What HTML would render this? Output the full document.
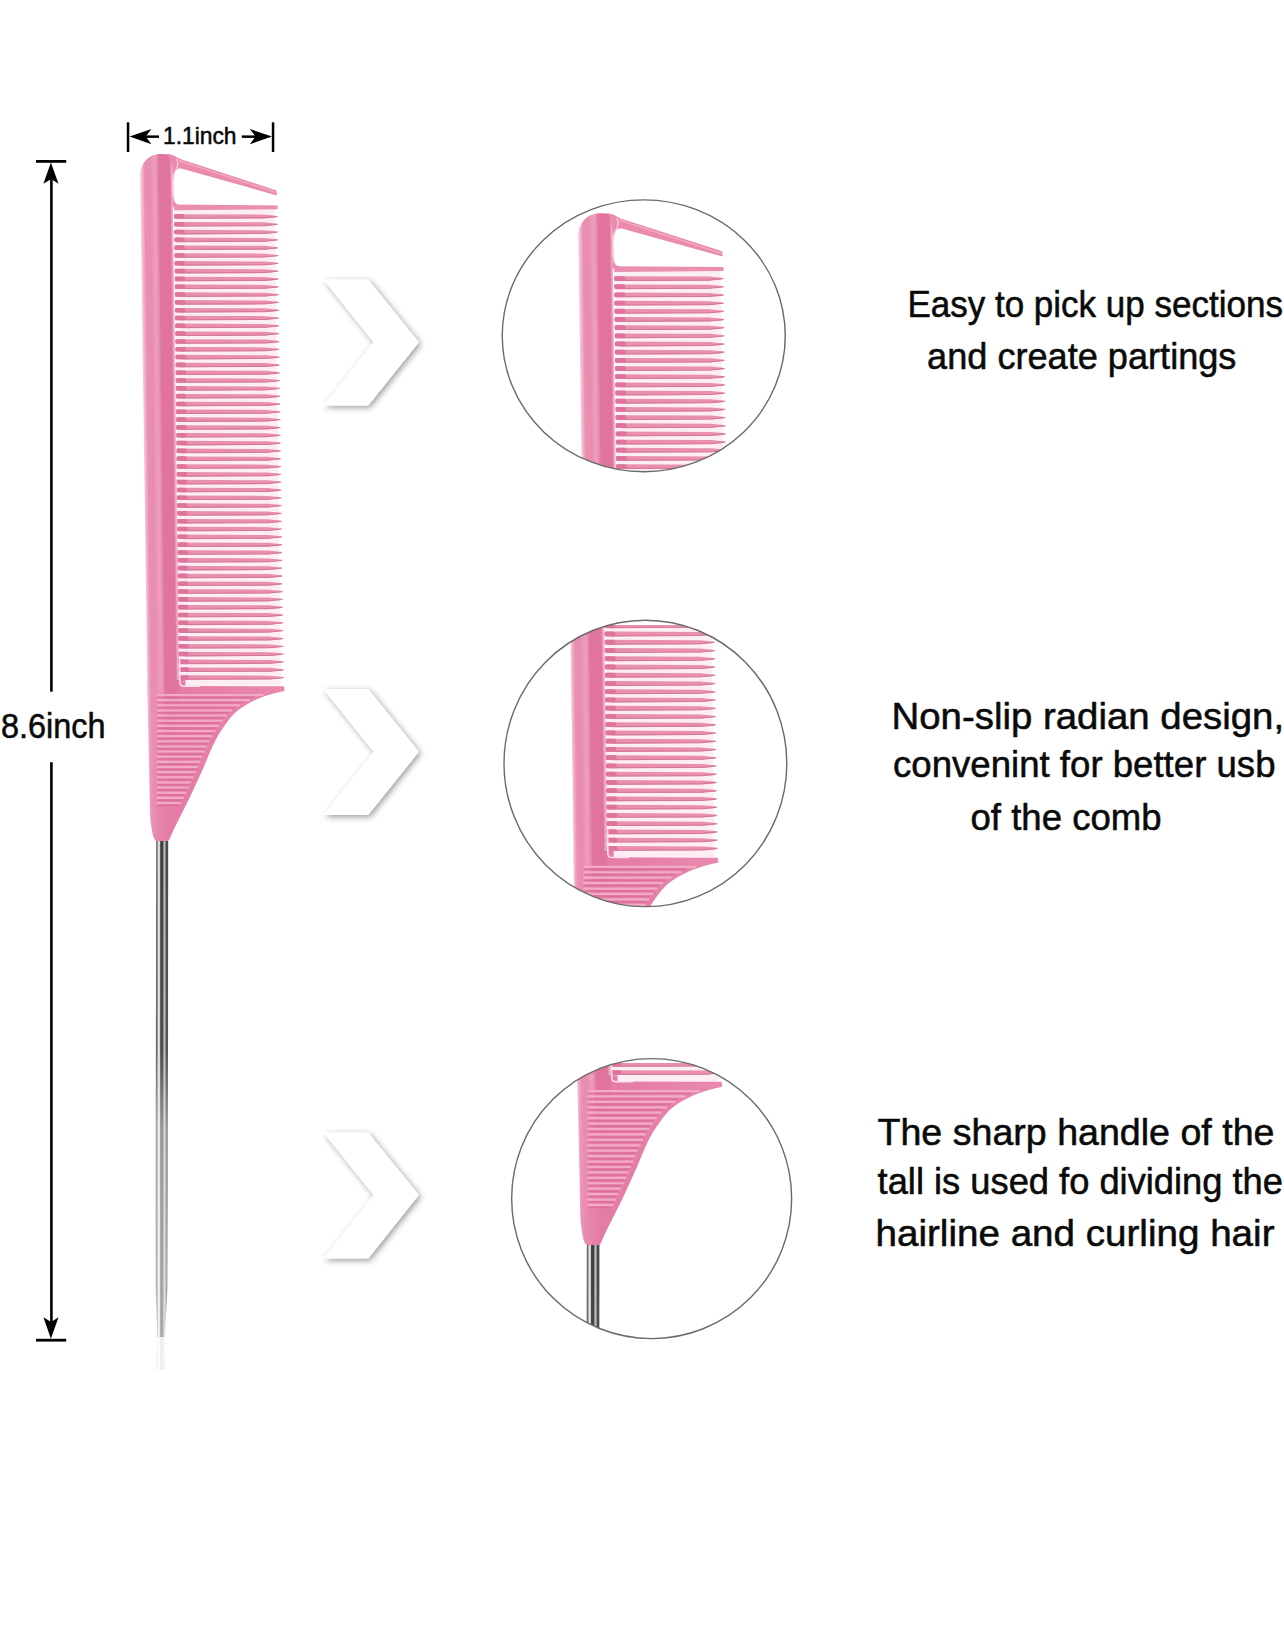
<!DOCTYPE html>
<html lang="en"><head><meta charset="utf-8"><title>Rat tail comb - product details</title>
<style>html,body{margin:0;padding:0;background:#fff}body{width:1284px;height:1645px;overflow:hidden}svg{display:block}</style>
</head><body>
<svg width="1284" height="1645" viewBox="0 0 1284 1645">
<defs>
<linearGradient id="gSp" gradientUnits="userSpaceOnUse" x1="140.2" y1="0" x2="175" y2="0" gradientTransform="matrix(1 0 0.012 1 -1.98 0)">
<stop offset="0" stop-color="#f6cfdd"/><stop offset="0.08" stop-color="#efa9c3"/><stop offset="0.125" stop-color="#e98fb1"/><stop offset="0.28" stop-color="#e98db0"/>
<stop offset="0.37" stop-color="#ec9ab9"/><stop offset="0.43" stop-color="#ed9dbb"/><stop offset="0.49" stop-color="#e88cb0"/><stop offset="0.54" stop-color="#e0749f"/>
<stop offset="0.85" stop-color="#e0749f"/><stop offset="0.9" stop-color="#f0a9c4"/><stop offset="1" stop-color="#fbd5e3"/>
</linearGradient>
<linearGradient id="gSp2" gradientUnits="userSpaceOnUse" x1="140.2" y1="0" x2="175" y2="0" gradientTransform="matrix(1 0 0.012 1 -1.98 0)">
<stop offset="0" stop-color="#f6cfdd"/><stop offset="0.08" stop-color="#efa9c3"/><stop offset="0.125" stop-color="#e98fb1"/><stop offset="0.28" stop-color="#e98db0"/>
<stop offset="0.37" stop-color="#ec9ab9"/><stop offset="0.43" stop-color="#ed9dbb"/><stop offset="0.49" stop-color="#e88cb0"/><stop offset="0.54" stop-color="#e0749f"/>
<stop offset="0.9" stop-color="#e0749f"/><stop offset="1.12" stop-color="#e57ea7"/>
</linearGradient>
<linearGradient id="gSeam" gradientUnits="userSpaceOnUse" x1="0" y1="684" x2="0" y2="738"><stop offset="0" stop-color="#fff"/><stop offset="1" stop-color="#000"/></linearGradient>
<mask id="mSeam" maskUnits="userSpaceOnUse" x="130" y="670" width="70" height="80"><rect x="130" y="670" width="70" height="80" fill="url(#gSeam)"/></mask>
<linearGradient id="gTail" gradientUnits="userSpaceOnUse" x1="147" y1="0" x2="290" y2="0">
<stop offset="0" stop-color="#f3bdd1"/><stop offset="0.03" stop-color="#eb93b5"/><stop offset="0.07" stop-color="#e888ae"/><stop offset="0.16" stop-color="#e47ca6"/><stop offset="0.5" stop-color="#e680a8"/><stop offset="1" stop-color="#ea8aae"/>
</linearGradient>
<linearGradient id="gPin" gradientUnits="userSpaceOnUse" x1="156" y1="0" x2="168.4" y2="0">
<stop offset="0" stop-color="#555"/><stop offset="0.1" stop-color="#777"/><stop offset="0.2" stop-color="#e2e2e2"/><stop offset="0.3" stop-color="#d0d0d0"/>
<stop offset="0.38" stop-color="#3c3c3c"/><stop offset="0.56" stop-color="#444"/><stop offset="0.64" stop-color="#c4c4c4"/><stop offset="0.74" stop-color="#aaa"/>
<stop offset="0.82" stop-color="#444"/><stop offset="1" stop-color="#555"/>
</linearGradient>
<linearGradient id="gFade" gradientUnits="userSpaceOnUse" x1="0" y1="841" x2="0" y2="1337">
<stop offset="0" stop-color="#fff"/><stop offset="0.42" stop-color="#f0f0f0"/><stop offset="0.58" stop-color="#8c8c8c"/><stop offset="1" stop-color="#747474"/>
</linearGradient>
<mask id="mPin"><rect x="150" y="830" width="30" height="520" fill="url(#gFade)"/></mask>
<filter id="sh" x="-20%" y="-20%" width="150%" height="150%">
<feGaussianBlur in="SourceAlpha" stdDeviation="3.1"/><feOffset dx="1.6" dy="1.9" result="b"/>
<feComponentTransfer><feFuncA type="linear" slope="0.4"/></feComponentTransfer>
<feMerge><feMergeNode/><feMergeNode in="SourceGraphic"/></feMerge>
</filter>
<g id="comb">
<path d="M 174.6 205 L 274.67 205 L 281 686 L 179.46 686 Z" fill="#fdeef3"/>
<path d="M 147.43 690 L 140.09 176 C 140.4 163 148.5 154 161 154 L 168 154.2 C 172.5 154.5 175.5 156.3 177.2 159 C 179 162 178 166.5 176 169.5 C 173.5 173 172.55 177 172.65 182 L 179.5 690 Z" fill="url(#gSp)"/>
<path d="M 168 154.2 C 172.5 154.5 176 156.4 179.5 158.8 L 276.5 190.4 L 276.9 195.4 L 183 169 C 178 167.6 174.5 170 173 176 L 172 165 Z" fill="#ea8bae"/>
<path d="M 179 160.6 L 276.5 192.6" stroke="#f3abc5" stroke-width="1.2" fill="none"/>
<path d="M 176.5 158.8 C 178.5 162 178 166 176 169.5 C 173.8 173 172.9 177 172.9 182 L 173.3 198 C 173.6 203.5 177 205.6 182 206" stroke="#f9c6d7" stroke-width="1.4" fill="none"/>
<path d="M 172.5 196 L 173.3 198 C 173.6 203.5 177 205.6 183 206 L 172.5 207 Z" fill="#e98db0"/>
<path d="M 174.1 204.6 L 277.7 205.4 L 277.7 209.2 L 174.15 210.2 Z" fill="#ea8fb0"/>
<path d="M 174.22 214.15 L 263.82 214.55 L 277.82 215.9 L 277.82 216.9 L 263.82 218.25 L 174.22 218.65 Z M 174.3 221.97 L 263.93 222.37 L 277.93 223.72 L 277.93 224.72 L 263.93 226.06 L 174.3 226.47 Z M 174.38 229.78 L 264.03 230.18 L 278.03 231.53 L 278.03 232.53 L 264.03 233.88 L 174.38 234.28 Z M 174.46 237.59 L 264.13 238 L 278.13 239.34 L 278.13 240.34 L 264.13 241.69 L 174.46 242.09 Z M 174.53 245.41 L 264.23 245.81 L 278.23 247.16 L 278.23 248.16 L 264.23 249.51 L 174.53 249.91 Z M 174.61 253.23 L 264.34 253.63 L 278.34 254.98 L 278.34 255.98 L 264.34 257.33 L 174.61 257.73 Z M 174.69 261.04 L 264.44 261.44 L 278.44 262.79 L 278.44 263.79 L 264.44 265.14 L 174.69 265.54 Z M 174.77 268.86 L 264.54 269.25 L 278.54 270.61 L 278.54 271.61 L 264.54 272.96 L 174.77 273.36 Z M 174.85 276.67 L 264.65 277.07 L 278.65 278.42 L 278.65 279.42 L 264.65 280.77 L 174.85 281.17 Z M 174.93 284.49 L 264.75 284.88 L 278.75 286.24 L 278.75 287.24 L 264.75 288.59 L 174.93 288.99 Z M 175.01 292.3 L 264.85 292.7 L 278.85 294.05 L 278.85 295.05 L 264.85 296.4 L 175.01 296.8 Z M 175.09 300.12 L 264.95 300.51 L 278.95 301.87 L 278.95 302.87 L 264.95 304.22 L 175.09 304.62 Z M 175.17 307.93 L 265.06 308.33 L 279.06 309.68 L 279.06 310.68 L 265.06 312.03 L 175.17 312.43 Z M 175.25 315.75 L 265.16 316.14 L 279.16 317.5 L 279.16 318.5 L 265.16 319.85 L 175.25 320.25 Z M 175.32 323.56 L 265.26 323.96 L 279.26 325.31 L 279.26 326.31 L 265.26 327.66 L 175.32 328.06 Z M 175.4 331.38 L 265.37 331.77 L 279.37 333.12 L 279.37 334.12 L 265.37 335.48 L 175.4 335.88 Z M 175.48 339.19 L 265.47 339.59 L 279.47 340.94 L 279.47 341.94 L 265.47 343.29 L 175.48 343.69 Z M 175.56 347 L 265.57 347.4 L 279.57 348.75 L 279.57 349.75 L 265.57 351.11 L 175.56 351.5 Z M 175.64 354.82 L 265.67 355.22 L 279.67 356.57 L 279.67 357.57 L 265.67 358.92 L 175.64 359.32 Z M 175.72 362.63 L 265.78 363.03 L 279.78 364.38 L 279.78 365.38 L 265.78 366.74 L 175.72 367.13 Z M 175.8 370.45 L 265.88 370.85 L 279.88 372.2 L 279.88 373.2 L 265.88 374.55 L 175.8 374.95 Z M 175.88 378.26 L 265.98 378.66 L 279.98 380.01 L 279.98 381.01 L 265.98 382.37 L 175.88 382.76 Z M 175.96 386.08 L 266.08 386.48 L 280.08 387.83 L 280.08 388.83 L 266.08 390.18 L 175.96 390.58 Z M 176.03 393.89 L 266.19 394.29 L 280.19 395.64 L 280.19 396.64 L 266.19 398 L 176.03 398.39 Z M 176.11 401.71 L 266.29 402.11 L 280.29 403.46 L 280.29 404.46 L 266.29 405.81 L 176.11 406.21 Z M 176.19 409.52 L 266.39 409.92 L 280.39 411.27 L 280.39 412.27 L 266.39 413.62 L 176.19 414.02 Z M 176.27 417.34 L 266.5 417.74 L 280.5 419.09 L 280.5 420.09 L 266.5 421.44 L 176.27 421.84 Z M 176.35 425.16 L 266.6 425.56 L 280.6 426.91 L 280.6 427.91 L 266.6 429.26 L 176.35 429.66 Z M 176.43 432.97 L 266.7 433.37 L 280.7 434.72 L 280.7 435.72 L 266.7 437.07 L 176.43 437.47 Z M 176.51 440.79 L 266.8 441.19 L 280.8 442.54 L 280.8 443.54 L 266.8 444.89 L 176.51 445.29 Z M 176.59 448.6 L 266.91 449 L 280.91 450.35 L 280.91 451.35 L 266.91 452.7 L 176.59 453.1 Z M 176.67 456.42 L 267.01 456.81 L 281.01 458.17 L 281.01 459.17 L 267.01 460.52 L 176.67 460.92 Z M 176.74 464.23 L 267.11 464.63 L 281.11 465.98 L 281.11 466.98 L 267.11 468.33 L 176.74 468.73 Z M 176.82 472.05 L 267.21 472.45 L 281.21 473.8 L 281.21 474.8 L 267.21 476.15 L 176.82 476.55 Z M 176.9 479.86 L 267.32 480.26 L 281.32 481.61 L 281.32 482.61 L 267.32 483.96 L 176.9 484.36 Z M 176.98 487.68 L 267.42 488.08 L 281.42 489.43 L 281.42 490.43 L 267.42 491.78 L 176.98 492.18 Z M 177.06 495.49 L 267.52 495.89 L 281.52 497.24 L 281.52 498.24 L 267.52 499.59 L 177.06 499.99 Z M 177.14 503.31 L 267.63 503.71 L 281.63 505.06 L 281.63 506.06 L 267.63 507.41 L 177.14 507.81 Z M 177.22 511.12 L 267.73 511.52 L 281.73 512.87 L 281.73 513.87 L 267.73 515.22 L 177.22 515.62 Z M 177.3 518.94 L 267.83 519.34 L 281.83 520.69 L 281.83 521.69 L 267.83 523.04 L 177.3 523.44 Z M 177.38 526.75 L 267.93 527.15 L 281.93 528.5 L 281.93 529.5 L 267.93 530.85 L 177.38 531.25 Z M 177.46 534.57 L 268.04 534.97 L 282.04 536.32 L 282.04 537.32 L 268.04 538.67 L 177.46 539.07 Z M 177.53 542.38 L 268.14 542.78 L 282.14 544.13 L 282.14 545.13 L 268.14 546.48 L 177.53 546.88 Z M 177.61 550.2 L 268.24 550.6 L 282.24 551.95 L 282.24 552.95 L 268.24 554.3 L 177.61 554.7 Z M 177.69 558.01 L 268.35 558.41 L 282.35 559.76 L 282.35 560.76 L 268.35 562.11 L 177.69 562.51 Z M 177.77 565.83 L 268.45 566.23 L 282.45 567.58 L 282.45 568.58 L 268.45 569.93 L 177.77 570.33 Z M 177.85 573.64 L 268.55 574.04 L 282.55 575.39 L 282.55 576.39 L 268.55 577.74 L 177.85 578.14 Z M 177.93 581.46 L 268.65 581.86 L 282.65 583.21 L 282.65 584.21 L 268.65 585.56 L 177.93 585.96 Z M 178.01 589.27 L 268.76 589.67 L 282.76 591.02 L 282.76 592.02 L 268.76 593.37 L 178.01 593.77 Z M 178.09 597.09 L 268.86 597.49 L 282.86 598.84 L 282.86 599.84 L 268.86 601.19 L 178.09 601.59 Z M 178.17 604.9 L 268.96 605.3 L 282.96 606.65 L 282.96 607.65 L 268.96 609 L 178.17 609.4 Z M 178.24 612.72 L 269.06 613.12 L 283.06 614.47 L 283.06 615.47 L 269.06 616.82 L 178.24 617.22 Z M 178.32 620.53 L 269.17 620.93 L 283.17 622.28 L 283.17 623.28 L 269.17 624.63 L 178.32 625.03 Z M 178.4 628.35 L 269.27 628.75 L 283.27 630.1 L 283.27 631.1 L 269.27 632.45 L 178.4 632.85 Z M 178.48 636.16 L 269.37 636.56 L 283.37 637.91 L 283.37 638.91 L 269.37 640.26 L 178.48 640.66 Z M 178.56 643.98 L 269.48 644.38 L 283.48 645.73 L 283.48 646.73 L 269.48 648.08 L 178.56 648.48 Z M 178.64 651.79 L 269.58 652.19 L 283.58 653.54 L 283.58 654.54 L 269.58 655.89 L 178.64 656.29 Z M 178.72 659.61 L 269.68 660 L 283.68 661.36 L 283.68 662.36 L 269.68 663.71 L 178.72 664.11 Z M 178.8 667.42 L 269.78 667.82 L 283.78 669.17 L 283.78 670.17 L 269.78 671.52 L 178.8 671.92 Z M 178.88 675.24 L 269.89 675.63 L 283.89 676.99 L 283.89 677.99 L 269.89 679.34 L 178.88 679.74 Z" fill="#e98fb0"/>
<path d="M 180.22 218.2 L 263.82 217.85 L 276.82 216.6 M 180.3 226.02 L 263.93 225.66 L 276.93 224.41 M 180.38 233.83 L 264.03 233.48 L 277.03 232.23 M 180.46 241.65 L 264.13 241.29 L 277.13 240.04 M 180.53 249.46 L 264.23 249.11 L 277.23 247.86 M 180.61 257.28 L 264.34 256.93 L 277.34 255.68 M 180.69 265.09 L 264.44 264.74 L 277.44 263.49 M 180.77 272.91 L 264.54 272.56 L 277.54 271.31 M 180.85 280.72 L 264.65 280.37 L 277.65 279.12 M 180.93 288.54 L 264.75 288.19 L 277.75 286.94 M 181.01 296.35 L 264.85 296 L 277.85 294.75 M 181.09 304.17 L 264.95 303.81 L 277.95 302.56 M 181.17 311.98 L 265.06 311.63 L 278.06 310.38 M 181.25 319.8 L 265.16 319.44 L 278.16 318.19 M 181.32 327.61 L 265.26 327.26 L 278.26 326.01 M 181.4 335.43 L 265.37 335.07 L 278.37 333.82 M 181.48 343.24 L 265.47 342.89 L 278.47 341.64 M 181.56 351.06 L 265.57 350.7 L 278.57 349.45 M 181.64 358.87 L 265.67 358.52 L 278.67 357.27 M 181.72 366.69 L 265.78 366.33 L 278.78 365.08 M 181.8 374.5 L 265.88 374.15 L 278.88 372.9 M 181.88 382.31 L 265.98 381.96 L 278.98 380.71 M 181.96 390.13 L 266.08 389.78 L 279.08 388.53 M 182.03 397.94 L 266.19 397.59 L 279.19 396.34 M 182.11 405.76 L 266.29 405.41 L 279.29 404.16 M 182.19 413.57 L 266.39 413.22 L 279.39 411.97 M 182.27 421.39 L 266.5 421.04 L 279.5 419.79 M 182.35 429.21 L 266.6 428.86 L 279.6 427.61 M 182.43 437.02 L 266.7 436.67 L 279.7 435.42 M 182.51 444.84 L 266.8 444.49 L 279.8 443.24 M 182.59 452.65 L 266.91 452.3 L 279.91 451.05 M 182.67 460.47 L 267.01 460.12 L 280.01 458.87 M 182.74 468.28 L 267.11 467.93 L 280.11 466.68 M 182.82 476.1 L 267.21 475.75 L 280.21 474.5 M 182.9 483.91 L 267.32 483.56 L 280.32 482.31 M 182.98 491.73 L 267.42 491.38 L 280.42 490.13 M 183.06 499.54 L 267.52 499.19 L 280.52 497.94 M 183.14 507.36 L 267.63 507.01 L 280.63 505.76 M 183.22 515.17 L 267.73 514.82 L 280.73 513.57 M 183.3 522.99 L 267.83 522.64 L 280.83 521.39 M 183.38 530.8 L 267.93 530.45 L 280.93 529.2 M 183.46 538.62 L 268.04 538.27 L 281.04 537.02 M 183.53 546.43 L 268.14 546.08 L 281.14 544.83 M 183.61 554.25 L 268.24 553.9 L 281.24 552.65 M 183.69 562.06 L 268.35 561.71 L 281.35 560.46 M 183.77 569.88 L 268.45 569.53 L 281.45 568.28 M 183.85 577.69 L 268.55 577.34 L 281.55 576.09 M 183.93 585.5 L 268.65 585.16 L 281.65 583.91 M 184.01 593.32 L 268.76 592.97 L 281.76 591.72 M 184.09 601.13 L 268.86 600.79 L 281.86 599.54 M 184.17 608.95 L 268.96 608.6 L 281.96 607.35 M 184.24 616.76 L 269.06 616.42 L 282.06 615.17 M 184.32 624.58 L 269.17 624.23 L 282.17 622.98 M 184.4 632.39 L 269.27 632.05 L 282.27 630.8 M 184.48 640.21 L 269.37 639.86 L 282.37 638.61 M 184.56 648.02 L 269.48 647.68 L 282.48 646.43 M 184.64 655.84 L 269.58 655.49 L 282.58 654.24 M 184.72 663.65 L 269.68 663.31 L 282.68 662.06 M 184.8 671.47 L 269.78 671.12 L 282.78 669.87 M 184.88 679.28 L 269.89 678.94 L 282.89 677.69" stroke="#d5789b" stroke-width="1.1" fill="none"/>
<path d="M 176.22 216.4 L 182.22 216.4 M 176.3 224.22 L 182.3 224.22 M 176.38 232.03 L 182.38 232.03 M 176.46 239.84 L 182.46 239.84 M 176.53 247.66 L 182.53 247.66 M 176.61 255.48 L 182.61 255.48 M 176.69 263.29 L 182.69 263.29 M 176.77 271.11 L 182.77 271.11 M 176.85 278.92 L 182.85 278.92 M 176.93 286.74 L 182.93 286.74 M 177.01 294.55 L 183.01 294.55 M 177.09 302.37 L 183.09 302.37 M 177.17 310.18 L 183.17 310.18 M 177.25 318 L 183.25 318 M 177.32 325.81 L 183.32 325.81 M 177.4 333.62 L 183.4 333.62 M 177.48 341.44 L 183.48 341.44 M 177.56 349.25 L 183.56 349.25 M 177.64 357.07 L 183.64 357.07 M 177.72 364.88 L 183.72 364.88 M 177.8 372.7 L 183.8 372.7 M 177.88 380.51 L 183.88 380.51 M 177.96 388.33 L 183.96 388.33 M 178.03 396.14 L 184.03 396.14 M 178.11 403.96 L 184.11 403.96 M 178.19 411.77 L 184.19 411.77 M 178.27 419.59 L 184.27 419.59 M 178.35 427.41 L 184.35 427.41 M 178.43 435.22 L 184.43 435.22 M 178.51 443.04 L 184.51 443.04 M 178.59 450.85 L 184.59 450.85 M 178.67 458.67 L 184.67 458.67 M 178.74 466.48 L 184.74 466.48 M 178.82 474.3 L 184.82 474.3 M 178.9 482.11 L 184.9 482.11 M 178.98 489.93 L 184.98 489.93 M 179.06 497.74 L 185.06 497.74 M 179.14 505.56 L 185.14 505.56 M 179.22 513.37 L 185.22 513.37 M 179.3 521.19 L 185.3 521.19 M 179.38 529 L 185.38 529 M 179.46 536.82 L 185.46 536.82 M 179.53 544.63 L 185.53 544.63 M 179.61 552.45 L 185.61 552.45 M 179.69 560.26 L 185.69 560.26 M 179.77 568.08 L 185.77 568.08 M 179.85 575.89 L 185.85 575.89 M 179.93 583.71 L 185.93 583.71 M 180.01 591.52 L 186.01 591.52 M 180.09 599.34 L 186.09 599.34 M 180.17 607.15 L 186.17 607.15 M 180.24 614.97 L 186.24 614.97 M 180.32 622.78 L 186.32 622.78 M 180.4 630.6 L 186.4 630.6 M 180.48 638.41 L 186.48 638.41 M 180.56 646.23 L 186.56 646.23 M 180.64 654.04 L 186.64 654.04 M 180.72 661.86 L 186.72 661.86 M 180.8 669.67 L 186.8 669.67 M 180.88 677.49 L 186.88 677.49" stroke="#de739b" stroke-width="4.6" stroke-linecap="round" fill="none"/>
<path d="M 179.46 686 L 284 686.3 L 284.6 691 C 282.5 691.5 276.1 692.83 272 694 C 267.9 695.17 263.92 696.42 260 698 C 256.08 699.58 252 701.58 248.5 703.5 C 245 705.42 241.75 707.42 239 709.5 C 236.25 711.58 234.08 713.75 232 716 C 229.92 718.25 228.83 719.72 226.5 723 C 224.17 726.28 220.58 731.25 218 735.7 C 215.42 740.15 213.33 744.57 211 749.7 C 208.67 754.83 206.33 761.12 204 766.5 C 201.67 771.88 199.33 776.92 197 782 C 194.67 787.08 192.33 792.17 190 797 C 187.67 801.83 185.33 806.33 183 811 C 180.67 815.67 178.17 820.5 176 825 C 173.83 829.5 171 835.83 170 838 C 169 840.6 167.8 841.6 166 841.6 L 158 841.6 C 155 841.4 153.6 838 152.6 834 C 151 826 150.2 818 150 812 L 147.37 686 Z" fill="url(#gTail)"/>
<path d="M 147.29 680 L 185.4 680 L 186.01 740 L 148.15 740 Z" fill="url(#gSp2)" mask="url(#mSeam)"/>
<path d="M 179.6 660 L 179.81 681 C 179.94 685 180.5 686.2 184 686.2 L 200 686.2" stroke="#fce0ea" stroke-width="1.5" fill="none"/>
<path d="M 157.5 695 L 262.5 695 M 157.5 700.14 L 249.02 700.14 M 157.5 705.29 L 239.17 705.29 M 157.5 710.43 L 231.5 710.43 M 157.5 715.57 L 225.96 715.57 M 157.5 720.72 L 221.8 720.72 M 157.5 725.86 L 218.09 725.86 M 157.5 731 L 214.65 731 M 157.5 736.14 L 211.28 736.14 M 157.5 741.29 L 208.71 741.29 M 157.5 746.43 L 206.14 746.43 M 157.5 751.57 L 203.72 751.57 M 157.5 756.72 L 201.58 756.72 M 157.5 761.86 L 199.43 761.86 M 157.5 767 L 197.27 767 M 157.5 772.14 L 194.95 772.14 M 157.5 777.29 L 192.63 777.29 M 157.5 782.43 L 190.3 782.43 M 157.5 787.57 L 187.9 787.57 M 157.5 792.72 L 185.5 792.72 M 157.5 797.86 L 183.07 797.86 M 157.5 803 L 180.5 803" stroke="#f3abc5" stroke-width="2.1" stroke-linecap="round" fill="none"/>
<path d="M 158 697.4 L 254.3 697.4 M 158 702.54 L 243 702.54 M 158 707.69 L 234.37 707.69 M 158 712.83 L 227.91 712.83 M 158 717.97 L 222.95 717.97 M 158 723.12 L 218.92 723.12 M 158 728.26 L 215.48 728.26 M 158 733.4 L 212.04 733.4 M 158 738.54 L 209.08 738.54 M 158 743.69 L 206.51 743.69 M 158 748.83 L 203.94 748.83 M 158 753.97 L 201.72 753.97 M 158 759.12 L 199.58 759.12 M 158 764.26 L 197.43 764.26 M 158 769.4 L 195.19 769.4 M 158 774.54 L 192.87 774.54 M 158 779.69 L 190.54 779.69 M 158 784.83 L 188.18 784.83 M 158 789.97 L 185.78 789.97 M 158 795.12 L 183.38 795.12 M 158 800.26 L 180.87 800.26 M 158 805.4 L 178.3 805.4" stroke="#dd6f9b" stroke-width="1.5" stroke-linecap="round" fill="none"/>
<path d="M 156.2 841 L 168.2 841 L 167.9 1200 L 167.4 1290 L 164.8 1337 L 157.4 1337 L 155.8 1290 L 155.6 1200 Z" fill="url(#gPin)" mask="url(#mPin)"/>
<path d="M 157.4 1337 L 164.8 1337 L 166.2 1370 L 156 1370 Z" fill="url(#gPin)" opacity="0.09"/>
</g>
<clipPath id="cc0"><ellipse cx="643.75" cy="335.8" rx="141.5" ry="135.9"/></clipPath>
<clipPath id="cr0"><rect x="480" y="150" width="320" height="400"/></clipPath>
<clipPath id="cc1"><ellipse cx="645.4" cy="763.4" rx="141.4" ry="143.2"/></clipPath>
<clipPath id="cr1"><rect x="480" y="625" width="320" height="400"/></clipPath>
<clipPath id="cc2"><ellipse cx="651.65" cy="1198.6" rx="140" ry="140"/></clipPath>
<clipPath id="cr2"><rect x="480" y="1063" width="320" height="400"/></clipPath>
</defs>
<rect width="1284" height="1645" fill="#fff"/>
<use href="#comb"/>
<g fill="#000" stroke="none">
<rect x="126.8" y="122.3" width="2.5" height="29.7"/><rect x="271.8" y="122.3" width="2.5" height="29.7"/>
<rect x="140" y="135.4" width="19" height="2.5"/><path d="M 129.6 136.6 L 151.4 129 L 145.8 136.6 L 151.4 144.3 Z"/>
<rect x="241.8" y="135.4" width="19" height="2.5"/><path d="M 272 136.6 L 249.8 129 L 255.6 136.6 L 249.8 144.3 Z"/>
<rect x="36" y="160" width="30.2" height="2.8"/><rect x="36" y="1338.8" width="30.2" height="2.8"/>
<rect x="50.1" y="170" width="2.6" height="521.7"/><rect x="50.1" y="762.2" width="2.6" height="565"/>
<path d="M 50.9 162.6 L 58.5 183.8 L 51.2 179 L 43.4 183.8 Z"/>
<path d="M 50.9 1338.8 L 58.5 1317.2 L 51.2 1322 L 43.4 1317.2 Z"/>
</g>
<path d="M 323.4 279.6 L 368.2 279.6 L 418.9 342.3 L 368.2 405.6 L 323.4 405.6 L 373.5 342.3 Z" fill="#fff" filter="url(#sh)" transform="translate(0 0)"/>
<path d="M 323.4 279.6 L 368.2 279.6 L 418.9 342.3 L 368.2 405.6 L 323.4 405.6 L 373.5 342.3 Z" fill="#fff" filter="url(#sh)" transform="translate(0 409.5)"/>
<path d="M 323.4 279.6 L 368.2 279.6 L 418.9 342.3 L 368.2 405.6 L 323.4 405.6 L 373.5 342.3 Z" fill="#fff" filter="url(#sh)" transform="translate(0 852.8)"/>
<g clip-path="url(#cc0)"><g clip-path="url(#cr0)"><use href="#comb" transform="translate(430.3 52.2) scale(1.0560 1.0460)"/></g></g>
<ellipse cx="643.75" cy="335.8" rx="141.5" ry="135.9" fill="none" stroke="#6a6a6a" stroke-width="1.4"/>
<g clip-path="url(#cc1)"><g clip-path="url(#cr1)"><use href="#comb" transform="translate(418.1 133.6) scale(1.0550 1.0550)"/></g></g>
<ellipse cx="645.4" cy="763.4" rx="141.4" ry="143.2" fill="none" stroke="#6a6a6a" stroke-width="1.4"/>
<g clip-path="url(#cc2)"><g clip-path="url(#cr2)"><use href="#comb" transform="translate(422 357.8) scale(1.0550 1.0550)"/></g></g>
<ellipse cx="651.65" cy="1198.6" rx="140" ry="140" fill="none" stroke="#6a6a6a" stroke-width="1.4"/>
<g font-family="&quot;Liberation Sans&quot;, sans-serif" fill="#0a0a0a" stroke="#0a0a0a" stroke-width="0.55" stroke-linejoin="round">
<text x="163" y="143.6" font-size="24" textLength="73.56" lengthAdjust="spacingAndGlyphs">1.1inch</text>
<text x="1" y="738.4" font-size="35" textLength="104.66" lengthAdjust="spacingAndGlyphs">8.6inch</text>
<text x="907.4" y="317.3" font-size="37.5" textLength="375.53" lengthAdjust="spacingAndGlyphs">Easy to pick up sections</text>
<text x="927.1" y="368.8" font-size="37.5" textLength="309.32" lengthAdjust="spacingAndGlyphs">and create partings</text>
<text x="891.5" y="728.5" font-size="37.5" textLength="392.59" lengthAdjust="spacingAndGlyphs">Non-slip radian design,</text>
<text x="893" y="777.2" font-size="37.5" textLength="382.52" lengthAdjust="spacingAndGlyphs">convenint for better usb</text>
<text x="970.5" y="830.1" font-size="37.5" textLength="191.04" lengthAdjust="spacingAndGlyphs">of the comb</text>
<text x="877.5" y="1144.9" font-size="37.5" textLength="397.01" lengthAdjust="spacingAndGlyphs">The sharp handle of the</text>
<text x="877.6" y="1194" font-size="37.5" textLength="405.4" lengthAdjust="spacingAndGlyphs">tall is used fo dividing the</text>
<text x="875.5" y="1245.5" font-size="37.5" textLength="399.02" lengthAdjust="spacingAndGlyphs">hairline and curling hair</text>
</g>
</svg>
</body></html>
